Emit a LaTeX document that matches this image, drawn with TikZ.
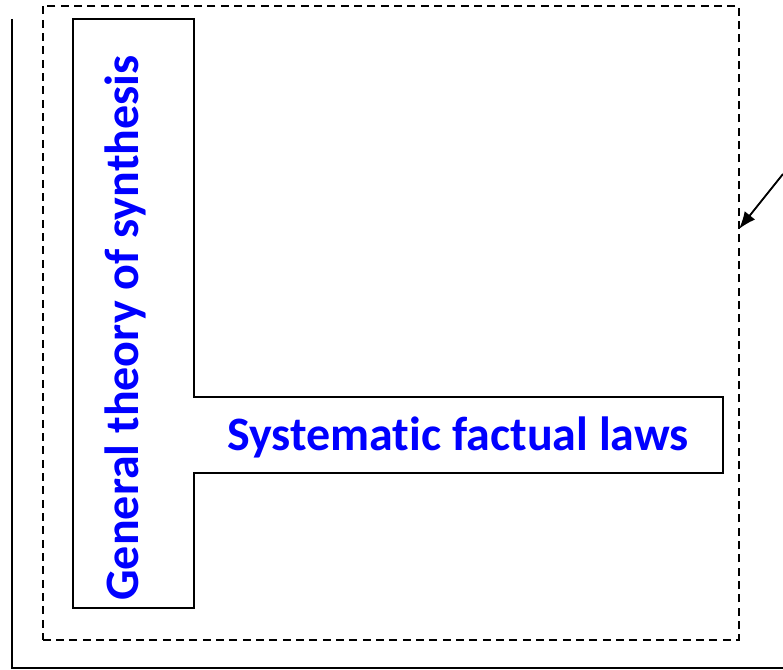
\documentclass[tikz,border=0pt]{standalone}
\usepackage{fontspec}
\setmainfont{Carlito}[Ligatures=CommonOff]
\usetikzlibrary{arrows.meta}
\definecolor{labelblue}{RGB}{0,0,255}
\tikzset{
  frameline/.style={line width=1.3pt, black},
  dashbox/.style={line width=1.2pt, black, dash pattern=on 6pt off 4pt},
  tshape/.style={line width=1.6pt, black, line join=miter},
  biglabel/.style={font=\bfseries\fontsize{36}{40}\selectfont, text=labelblue, inner sep=0pt},
  pointer/.style={line width=1.4pt, -{Latex[length=13pt,width=10pt]}}
}
\begin{document}
\begin{tikzpicture}[x=0.75pt,y=-0.75pt]
  \useasboundingbox (0,0) rectangle (783,670);
  % open outer frame: left side and bottom
  \coordinate (frametop) at (12,19);
  \coordinate (framecorner) at (12,668);
  \coordinate (frameend) at (783,668);
  \draw[frameline] (frametop) -- (framecorner) -- (frameend);
  % dashed enclosure
  \node[dashbox, draw, minimum width=696*0.75pt, minimum height=634*0.75pt, inner sep=0pt, anchor=north west] (enclosure) at (42,5) {};
  % T-shaped outline
  \draw[tshape] (73,19) -- (194,19) -- (194,397) -- (723,397) -- (723,473)
    -- (194,473) -- (194,608) -- (73,608) -- cycle;
  % labels
  \node[biglabel, rotate=90, anchor=base] (theory) at (138,328) {General theory of synthesis};
  \node[biglabel, anchor=base] (laws) at (458,451) {Systematic factual laws};
  % pointer onto the enclosure
  \coordinate (pointerstart) at (783,174);
  \coordinate (pointertip) at (739,229);
  \draw[pointer] (pointerstart) -- (pointertip);
\end{tikzpicture}
\end{document}
